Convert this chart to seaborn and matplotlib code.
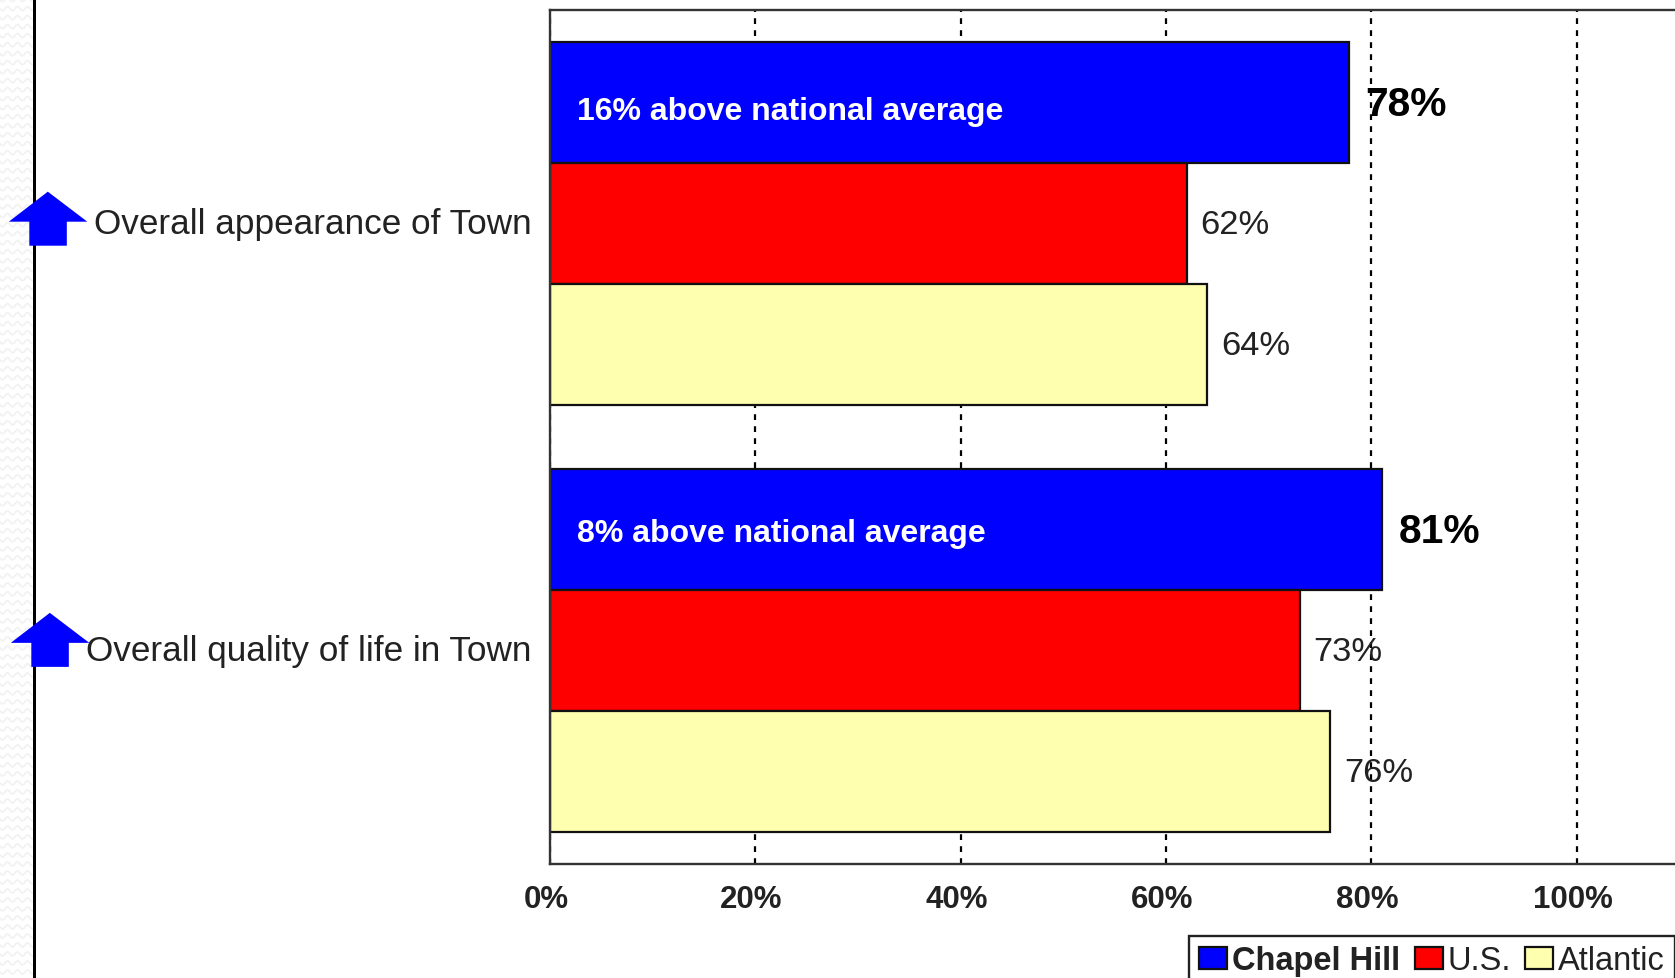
import matplotlib
matplotlib.use("Agg")
import matplotlib.pyplot as plt
import matplotlib.transforms as mtrans
from matplotlib.lines import Line2D
from matplotlib.patches import Polygon, Rectangle
import numpy as np
import pandas as pd
import seaborn as sns

categories = ["Overall appearance of Town", "Overall quality of life in Town"]
series = ["Chapel Hill", "U.S.", "Atlantic"]
chapel_hill = [77.8, 81]
us = [62, 73]
atlantic = [64, 76]
notes = ["16% above national average", "8% above national average"]
colors = ["#0000FF", "#FF0000", "#FFFFB0"]
xticks = [0, 20, 40, 60, 80, 100]
xticklabels = ["0%", "20%", "40%", "60%", "80%", "100%"]

W, H = 1675, 978
sns.set_theme(style="white")
plt.rcParams["font.family"] = ["Liberation Sans", "DejaVu Sans"]
INK = "#222222"

df = pd.DataFrame({
    "category": categories * 3,
    "series": [s for s in series for _ in categories],
    "value": chapel_hill + us + atlantic,
})

fig = plt.figure(figsize=((W + 0.4) / 100, (H + 0.4) / 100), dpi=100, facecolor="white")
ax = fig.add_axes([550 / W, (H - 864) / H, 1129 / W, 854 / H])

sns.barplot(data=df, y="category", x="value", hue="series", hue_order=series,
            palette=colors, saturation=1, width=0.85, gap=0,
            edgecolor="#111111", linewidth=1.6, ax=ax, legend=True, errorbar=None)

ax.set_xlim(0, 110)
ax.set_ylim(1.5, -0.5)
ax.set_xlabel("")
ax.set_ylabel("")
ax.set_axisbelow(True)
ax.xaxis.grid(True, color="black", linestyle=(0, (2.6, 2.8)), linewidth=1.6)
ax.yaxis.grid(False)
for s in ax.spines.values():
    s.set_color("#333333")
    s.set_linewidth(1.7)

ax.set_xticks(xticks)
ax.set_xticklabels(xticklabels, fontweight="bold", fontsize=22.5, color=INK)
ax.tick_params(axis="x", length=0, pad=14.8)
ax.tick_params(axis="y", length=0, pad=13.5, labelsize=25.3, labelcolor=INK)
shift = mtrans.ScaledTranslation(-4 / 100, 0, fig.dpi_scale_trans)
for lab in ax.get_xticklabels():
    lab.set_transform(lab.get_transform() + shift)
shift_y = mtrans.ScaledTranslation(0, 3 / 100, fig.dpi_scale_trans)
for lab in ax.get_yticklabels():
    lab.set_transform(lab.get_transform() + shift_y)

# Value labels
for i, cont in enumerate(ax.containers):
    bold = i == 0
    texts = ax.bar_label(cont, fmt="%.0f%%", padding=12 if bold else 10,
                         fontsize=29.3 if bold else 24.8,
                         fontweight="bold" if bold else "normal",
                         color="black" if bold else INK)
    for t in texts:
        t.xyann = (t.xyann[0], -1.5)

# Notes inside the Chapel Hill bars
for patch, note, dy in zip(ax.containers[0], notes, [-6.8, -2.8]):
    ax.annotate(note, (0, patch.get_y() + patch.get_height() / 2), xytext=(19.5, dy),
                textcoords="offset points", color="white", fontweight="bold",
                fontsize=23, va="center", ha="left")

# Legend
handles, labels = ax.get_legend_handles_labels()
ax.get_legend().remove()
leg = fig.legend(handles, labels, loc="upper left", bbox_to_anchor=(1189 / W, 1 - 936 / H),
                 bbox_transform=fig.transFigure, ncols=3, fontsize=23.5, frameon=True,
                 fancybox=False, framealpha=1, edgecolor="#222222", borderaxespad=0,
                 handlelength=0.86, handleheight=0.65, handletextpad=0.14, columnspacing=0.45,
                 borderpad=0.3, labelcolor=INK)
leg.get_frame().set_linewidth(1.7)
leg.get_texts()[0].set_fontweight("bold")


def fig_px(points):
    return [(x / W, 1 - y / H) for x, y in points]


# Page furniture: pale patterned margin strip, rule and arrows, in figure pixels
wave_x = np.arange(0, 34, 0.5)
for row in np.arange(0, H + 9, 9):
    wave_y = row + 2 * np.sin(2 * np.pi * wave_x / 10)
    fig.add_artist(Line2D(wave_x / W, 1 - wave_y / H, transform=fig.transFigure,
                          color="#F2F2F2", linewidth=1.3, zorder=1))
fig.add_artist(Rectangle((33.2 / W, 0), 2.4 / W, 1, transform=fig.transFigure,
                         fc="black", ec="none", zorder=2))
for x0, y0 in [(47.8, 192), (49.8, 613)]:
    shape = [(x0, y0), (x0 + 39.5, y0 + 30), (x0 + 19, y0 + 30), (x0 + 19, y0 + 54),
             (x0 - 18.5, y0 + 54), (x0 - 18.5, y0 + 30), (x0 - 39, y0 + 30)]
    fig.add_artist(Polygon(fig_px(shape), closed=True, transform=fig.transFigure,
                           fc="#0000FF", ec="none", zorder=3))

fig.savefig("out.png", dpi=100)
